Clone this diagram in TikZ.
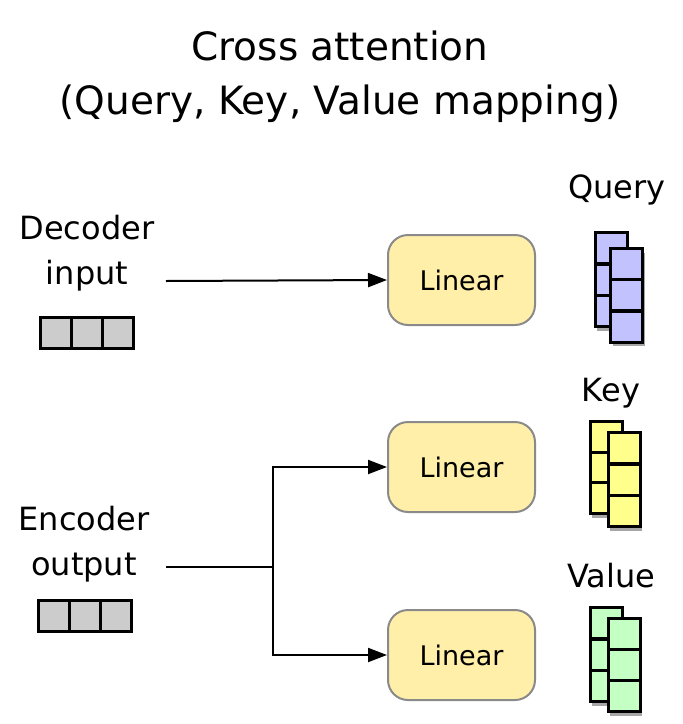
\documentclass[tikz,border=0pt]{standalone}
\usepackage{fontspec}
\setmainfont{DejaVu Sans}
\usetikzlibrary{arrows.meta,shadows}
\definecolor{linfill}{HTML}{FFEFA8}
\definecolor{linborder}{HTML}{8A8A8A}
\definecolor{qcol}{HTML}{C2C2FF}
\definecolor{kcol}{HTML}{FFFF8C}
\definecolor{vcol}{HTML}{C4FFC4}
\definecolor{gcol}{HTML}{CCCCCC}
\tikzset{
  lin/.style={draw=linborder, line width=2pt, fill=linfill, rounded corners=20pt,
    minimum width=147pt, minimum height=90pt, inner sep=0pt, font=\fontsize{27}{30}\selectfont},
  lbl/.style={font=\fontsize{32}{36}\selectfont, inner sep=0pt},
  ttl/.style={font=\fontsize{39}{44}\selectfont, inner sep=0pt},
  cell/.style={draw=black, line width=3pt, minimum width=31pt, minimum height=31pt, inner sep=0pt},
  vcell/.style={draw=black, line width=3pt, minimum width=32pt, minimum height=31pt, inner sep=0pt},
  conn/.style={line width=2pt, -{Triangle[length=19pt,width=14pt]}},
  shd/.style={drop shadow={shadow xshift=2pt, shadow yshift=-4pt, opacity=0.35, fill=black}},
}
\begin{document}
\begin{tikzpicture}[x=1pt,y=-1pt]
\useasboundingbox (0,0) rectangle (683,724);
% titles
\node[ttl] (t1) at (340,46) {Cross attention};
\node[ttl] (t2) at (340,104) {(Query, Key, Value mapping)};
% left labels
\node[lbl] (dec1) at (87,228) {Decoder};
\node[lbl] (dec2) at (87,276) {input};
\node[lbl] (enc1) at (84,519) {Encoder};
\node[lbl] (enc2) at (84,568) {output};
% gray token boxes
\foreach \i in {0,1,2} {
  \node[cell, fill=gcol] (d\i) at (55.5+31*\i,332.5) {};
  \node[cell, fill=gcol] (e\i) at (53.5+31*\i,616) {};
}
% linear boxes
\node[lin] (l1) at (461.5,280) {Linear};
\node[lin] (l2) at (461.5,467) {Linear};
\node[lin] (l3) at (461.5,655) {Linear};
% connectors
\coordinate (din) at (166,281);
\draw[conn] (din) -- (l1.west);
\coordinate (ein) at (166,567);
\coordinate (br) at (273,567);
\draw[line width=2pt] (ein) -- (br);
\draw[conn] (br) |- (l2.west);
\draw[conn] (br) |- (l3.west);
% output labels
\node[lbl] (q) at (617,190) {Query};
\node[lbl] (k) at (611,393) {Key};
\node[lbl] (v) at (611,576) {Value};
% Query
\foreach \j in {0,1,2} {
  \node[vcell, fill=qcol, shd] (qb\j) at (611,248+31.7*\j) {};
}
\foreach \j in {0,1,2} {
  \node[vcell, fill=qcol, shd] (qf\j) at (626.5,264+31.3*\j) {};
}
% Key
\foreach \j in {0,1,2} {
  \node[vcell, fill=kcol, shd] (kb\j) at (606,437+30.7*\j) {};
}
\foreach \j in {0,1,2} {
  \node[vcell, fill=kcol, shd] (kf\j) at (624,448+31.7*\j) {};
}
% Value
\foreach \j in {0,1,2} {
  \node[vcell, fill=vcol, shd] (vb\j) at (606,623+31.7*\j) {};
}
\foreach \j in {0,1,2} {
  \node[vcell, fill=vcol, shd] (vf\j) at (624,633.5+31.3*\j) {};
}
\end{tikzpicture}
\end{document}
